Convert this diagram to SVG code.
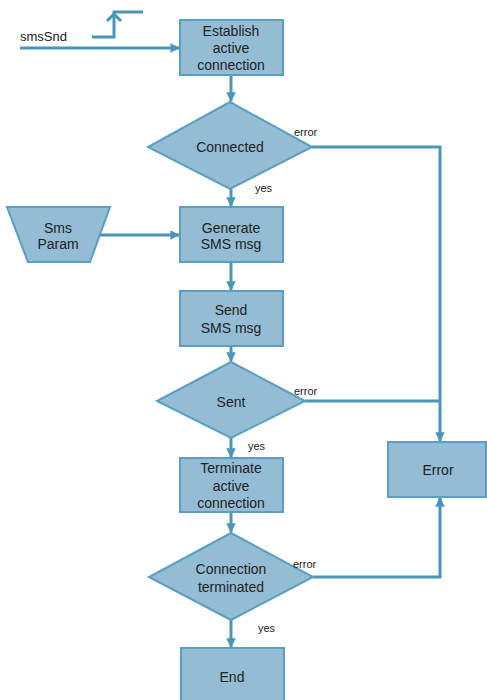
<svg xmlns="http://www.w3.org/2000/svg" width="487" height="700" viewBox="0 0 487 700">
<defs>
<style>
.n{fill:#94bcd4;stroke:#5a9ec2;stroke-width:2}
.c{fill:none;stroke:#4a96b8;stroke-width:3}
.t{font-family:"Liberation Sans",Arial,sans-serif;font-size:14px;fill:#222;text-anchor:middle}
.l{font-family:"Liberation Sans",Arial,sans-serif;font-size:11px;fill:#222}
</style>
<marker id="a" viewBox="0 0 10 10" refX="9" refY="5" markerWidth="3.2" markerHeight="3.2" orient="auto" markerUnits="strokeWidth">
<path d="M0,0 L10,5 L0,10 z" fill="#4a96b8"/>
</marker>
</defs>
<rect width="487" height="700" fill="#fff"/>
<g id="connectors">
<path class="c" d="M20,48 H179" marker-end="url(#a)"/>
<path class="c" d="M92,37 H114 V12 H143"/>
<path class="c" d="M107,21 L114,14 L121,21"/>
<path class="c" d="M231,75 V101" marker-end="url(#a)"/>
<path class="c" d="M231,189 V206" marker-end="url(#a)"/>
<path class="c" d="M100,235 H179" marker-end="url(#a)"/>
<path class="c" d="M231,262 V290" marker-end="url(#a)"/>
<path class="c" d="M231,346 V361" marker-end="url(#a)"/>
<path class="c" d="M231,438 V457" marker-end="url(#a)"/>
<path class="c" d="M231,512 V532" marker-end="url(#a)"/>
<path class="c" d="M231,620 V647" marker-end="url(#a)"/>
<path class="c" d="M312,147 H440 V441" marker-end="url(#a)"/>
<path class="c" d="M305,401 H440"/>
<path class="c" d="M313,577 H440 V498" marker-end="url(#a)"/>
</g>
<g id="smsSnd"><text class="l" x="20" y="41" style="font-size:13px">smsSnd</text></g>
<g id="establish">
<rect class="n" x="180" y="20" width="103" height="55"/>
<text class="t" x="231" y="36">Establish</text>
<text class="t" x="231" y="53">active</text>
<text class="t" x="231" y="70">connection</text>
</g>
<g id="connected">
<polygon class="n" points="230,102 312,147 230,189 148,147"/>
<text class="t" x="230" y="152">Connected</text>
<text class="l" x="294" y="136">error</text>
<text class="l" x="255" y="192">yes</text>
</g>
<g id="smsParam">
<polygon class="n" points="7,207 110,207 90,262 28,262"/>
<text class="t" x="58" y="233">Sms</text>
<text class="t" x="58" y="249">Param</text>
</g>
<g id="generate">
<rect class="n" x="180" y="207" width="103" height="55"/>
<text class="t" x="231" y="233">Generate</text>
<text class="t" x="231" y="249">SMS msg</text>
</g>
<g id="send">
<rect class="n" x="180" y="291" width="103" height="55"/>
<text class="t" x="231" y="315">Send</text>
<text class="t" x="231" y="333">SMS msg</text>
</g>
<g id="sent">
<polygon class="n" points="231,362 305,401 231,438 157,401"/>
<text class="t" x="231" y="407">Sent</text>
<text class="l" x="294" y="395">error</text>
<text class="l" x="248" y="450">yes</text>
</g>
<g id="terminate">
<rect class="n" x="180" y="458" width="103" height="54"/>
<text class="t" x="231" y="473">Terminate</text>
<text class="t" x="231" y="491">active</text>
<text class="t" x="231" y="508">connection</text>
</g>
<g id="error">
<rect class="n" x="388" y="442" width="98" height="55"/>
<text class="t" x="438" y="475">Error</text>
</g>
<g id="connTerminated">
<polygon class="n" points="231,533 313,577 231,620 149,577"/>
<text class="t" x="231" y="574">Connection</text>
<text class="t" x="231" y="592">terminated</text>
<text class="l" x="293" y="568">error</text>
<text class="l" x="258" y="632">yes</text>
</g>
<g id="end">
<rect class="n" x="181" y="648" width="103" height="56"/>
<text class="t" x="232" y="682">End</text>
</g>
</svg>
